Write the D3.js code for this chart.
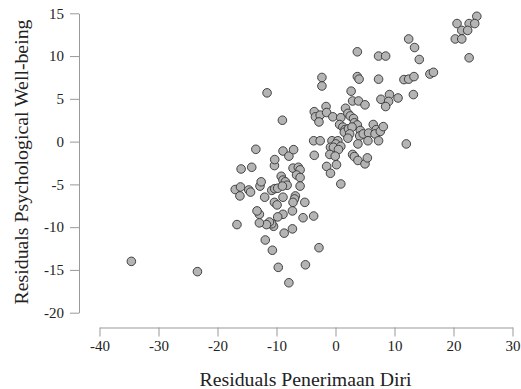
<!DOCTYPE html>
<html>
<head>
<meta charset="utf-8">
<script src="https://cdn.jsdelivr.net/npm/d3@7"></script>
<style>
  body { margin: 0; background: #fff; }
  svg text { font-family: "Liberation Serif", "Times New Roman", serif; fill: #222; }
  .axis path, .axis line { stroke: #999; }
</style>
</head>
<body>
<div id="chart"></div>
<script>
// residuals
const selfAcceptance = [
  23.95, 20.6, 22.65, 23.6, 21.4, 22.4, 20.3, 21.4, 22.65, 12.4,
  13.4, 14.2, 7.3, 8.5, 3.7, 16.0, 16.6, 11.6, 12.4, 13.3,
  13.2, 10.6, 7.3, 3.7, 4.0, -2.3, -2.3, -11.6, -9.0, 2.65,
  2.9, 3.9, 5.0, 7.7, 9.15, 9.0, 8.5, 12.0, -1.6, -3.6,
  -3.4, -2.6, -2.8, -1.5, -0.45, 0.9, 1.7, 2.1, 2.5, 3.05,
  3.2, 3.7, 0.7, 1.25, 1.6, 1.5, 2.2, 2.8, 2.4, 2.1,
  4.2, 4.1, 4.7, 5.6, 6.4, 6.9, 6.7, 7.6, 8.1, 5.5,
  7.3, 3.8, -3.7, -2.6, -0.6, 0.4, 0.05, -0.85, -0.35, 0.9,
  0.5, -0.96, -0.05, -3.6, -1.5, 0.17, -0.85, 0.9, 2.9, 3.2,
  3.8, 5.0, 5.4, -2.8, -3.7, -5.1, -7.9, -9.7, -10.7, -11.9,
  -8.7, -7.3, -5.5, -7.3, -8.9, -9.8, -10.5, -10.8, -11.2, -11.7,
  -12.9, -12.9, -13.3, -16.7, -12.0, -17.0, -16.1, -16.2, -16.0, -14.7,
  -14.4, -14.2, -13.5, -12.8, -12.6, -10.8, -10.3, -9.8, -10.35, -9.9,
  -10.35, -10.3, -8.9, -7.9, -7.1, -9.2, -8.9, -8.5, -8.2, -9.0,
  -8.9, -7.2, -6.3, -6.0, -6.6, -6.0, -6.0, -6.8, -6.95, -7.2,
  -5.2, -34.6, -23.4
];
const wellBeing = [
  14.65, 13.8, 13.8, 13.8, 13.0, 13.0, 12.0, 12.0, 9.8, 12.0,
  11.0, 9.6, 10.0, 10.0, 10.5, 7.9, 8.1, 7.25, 7.3, 7.6,
  5.5, 5.1, 7.3, 7.6, 7.3, 7.5, 6.5, 5.7, 2.5, 5.9,
  4.75, 4.75, 4.3, 4.95, 5.5, 4.7, 4.1, -0.27, 4.1, 3.5,
  2.9, 3.1, 2.3, 3.4, 2.9, 2.8, 3.9, 3.3, 3.0, 2.7,
  2.2, 1.95, 2.0, 1.7, 1.4, 1.1, 1.5, 1.7, 0.9, 0.4,
  1.3, 0.66, 0.9, 1.0, 2.0, 1.4, 0.9, 1.2, 1.75, 0.1,
  0.1, -0.27, 0.1, 0.1, 0.1, 0.1, -0.27, -0.66, -0.66, -0.55,
  -0.93, -1.5, -1.7, -1.6, -2.9, -2.7, -3.7, -4.95, -1.5, -1.75,
  -2.2, -2.6, -1.9, -12.4, -8.7, -14.4, -16.5, -14.7, -12.7, -11.5,
  -10.7, -10.2, -8.9, -8.1, -8.5, -8.8, -9.9, -9.6, -9.4, -9.7,
  -9.5, -8.5, -8.1, -9.7, -6.5, -5.6, -5.3, -6.35, -3.2, -5.65,
  -5.9, -3.0, -0.9, -5.2, -4.7, -5.7, -5.5, -5.45, -7.1, -7.4,
  -2.8, -2.1, -1.1, -1.7, -0.94, -4.05, -4.5, -4.7, -5.1, -5.2,
  -6.5, -3.1, -3.0, -3.3, -3.9, -4.2, -5.2, -6.35, -6.7, -7.1,
  -7.1, -14.0, -15.2
];
const xTicks = [-40, -30, -20, -10, 0, 10, 20, 30];
const yTicks = [-20, -15, -10, -5, 0, 5, 10, 15];

const width = 521, height = 389;
const svg = d3.select('#chart').append('svg')
  .attr('width', width).attr('height', height);

const x = d3.scaleLinear().domain([-40, 30]).range([99.5, 512.5]);
const y = d3.scaleLinear().domain([-20, 15]).range([312.7, 13.3]);

// plain hyphen for negatives, like the original
const fmt = d => String(d);

// x axis sits a bit below the plot area, y axis a bit left of it
svg.append('g')
  .attr('class', 'axis')
  .attr('transform', 'translate(0,327.5)')
  .call(d3.axisBottom(x).tickValues(xTicks).tickFormat(fmt).tickSize(9).tickSizeOuter(0).tickPadding(4))
  .call(g => g.selectAll('text').attr('font-size', 15));

svg.append('g')
  .attr('class', 'axis')
  .attr('transform', 'translate(79,0)')
  .call(d3.axisLeft(y).tickValues(yTicks).tickFormat(fmt).tickSize(9).tickSizeOuter(0).tickPadding(6))
  .call(g => g.selectAll('text').attr('font-size', 15));

svg.selectAll('circle.pt')
  .data(selfAcceptance.map((d, i) => [d, wellBeing[i]]))
  .enter()
  .append('circle')
  .attr('class', 'pt')
  .attr('cx', d => x(d[0]))
  .attr('cy', d => y(d[1]))
  .attr('r', 4.3)
  .attr('fill', '#b4b4b4')
  .attr('stroke', '#333')
  .attr('stroke-width', 0.9);

svg.append('text')
  .attr('x', 305.5).attr('y', 386)
  .attr('text-anchor', 'middle')
  .attr('font-size', 19.8)
  .text('Residuals Penerimaan Diri');

svg.append('text')
  .attr('transform', 'translate(28,162) rotate(-90)')
  .attr('text-anchor', 'middle')
  .attr('font-size', 19.8)
  .text('Residuals Psychological Well-being');
</script>
</body>
</html>
